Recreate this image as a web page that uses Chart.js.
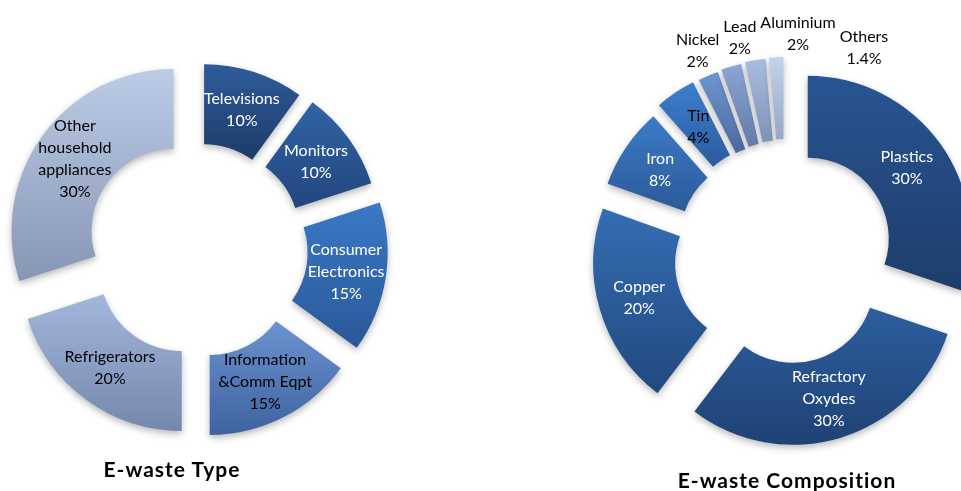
<!DOCTYPE html>
<html>
<head>
<meta charset="utf-8">
<script src="https://cdn.jsdelivr.net/npm/chart.js@4.4.0/dist/chart.umd.min.js"></script>
<style>
  html, body { margin: 0; padding: 0; background: #fff; overflow: hidden; }
  #wrap { position: relative; width: 961px; height: 491px; overflow: hidden; }
  canvas { position: absolute; }
  #typeChart { left: -13px; top: 0; }
  #compChart { left: 575px; top: 0; }
  .title { position: absolute; font: bold 21px Lato, sans-serif; letter-spacing: 1px; color: #000; white-space: nowrap; transform: translateX(-50%); }
</style>
</head>
<body>
<div id="wrap">
  <canvas id="typeChart" width="420" height="496"></canvas>
  <canvas id="compChart" width="420" height="510"></canvas>
  <div class="title" style="left:172px; top:456px">E-waste Type</div>
  <div class="title" style="left:787px; top:467px">E-waste Composition</div>
</div>
<script>
// E-waste by type (share of total, %)
const typeLabels = [['Televisions'], ['Monitors'], ['Consumer', 'Electronics'], ['Information', '&Comm Eqpt'], ['Refrigerators'], ['Other', 'household', 'appliances']];
const typeShares = [10, 10, 15, 15, 20, 30];

// E-waste by material (share of total, %)
const compLabels = [['Plastics'], ['Refractory', 'Oxydes'], ['Copper'], ['Iron'], ['Tin'], ['Nickel'], ['Lead'], ['Aluminium'], ['Others']];
const compShares = [30, 30, 20, 8, 4, 2, 2, 2, 1.4];

// slice styling: gradient top/bottom colours, label colour, explode distance (px)
const typeTop    = ['#2e5c9a', '#3164a6', '#3a79c6', '#6c93d0', '#a3b7dd', '#bccbe6'];
const typeBottom = ['#1d3b67', '#22467d', '#2a5797', '#3f62a0', '#7488ae', '#8796b3'];
const typeText   = ['#fff', '#fff', '#fff', '#000', '#000', '#000'];
const typeExplode = [23, 25, 29, 28, 26, 29];

const compTop    = ['#285593', '#2d5e9f', '#356db3', '#3d7bc7', '#3c7fd0', '#6e95cf', '#8ba5d4', '#a7bce1', '#c3d1ec'];
const compBottom = ['#1d3d6b', '#1f4274', '#21497e', '#2b5a98', '#2b5b9c', '#4b6a9e', '#627ba8', '#7f92b7', '#97a7c4'];
const compText   = ['#fff', '#fff', '#fff', '#fff', '#000', '#000', '#000', '#000', '#000'];
const compExplode = [28, 28, 30, 29, 33, 32, 33, 34, 35];

// pushes every arc out along its mid angle
const explode = {
  id: 'explode',
  afterDatasetUpdate(chart, args, opts) {
    args.meta.data.forEach((arc, i) => {
      const mid = (arc.startAngle + arc.endAngle) / 2;
      const d = opts.distance[i] || 0;
      arc.x += Math.cos(mid) * d;
      arc.y += Math.sin(mid) * d;
    });
  }
};

// vertical gradient per slice plus a soft drop shadow
const shading = {
  id: 'shading',
  beforeDatasetDraw(chart, args, opts) {
    const ctx = chart.ctx;
    args.meta.data.forEach((arc, i) => {
      let top = Infinity, bottom = -Infinity;
      for (let k = 0; k <= 24; k++) {
        const a = arc.startAngle + (arc.endAngle - arc.startAngle) * k / 24;
        [arc.innerRadius, arc.outerRadius].forEach(r => {
          const py = arc.y + Math.sin(a) * r;
          top = Math.min(top, py);
          bottom = Math.max(bottom, py);
        });
      }
      const g = ctx.createLinearGradient(0, top, 0, bottom);
      g.addColorStop(0, opts.top[i]);
      g.addColorStop(1, opts.bottom[i]);
      arc.options.backgroundColor = g;
    });
    ctx.save();
    ctx.shadowColor = 'rgba(0,0,0,0.28)';
    ctx.shadowBlur = 7;
    ctx.shadowOffsetY = 3;
  },
  afterDatasetDraw(chart) {
    chart.ctx.restore();
  }
};

function drawLines(ctx, lines, x, y, lh) {
  const y0 = y - (lines.length - 1) * lh / 2;
  lines.forEach((t, k) => ctx.fillText(t, x, y0 + k * lh));
}

// category + percentage inside each slice; small slices get theirs outside the ring
const sliceLabels = {
  id: 'sliceLabels',
  afterDatasetsDraw(chart, args, opts) {
    const ctx = chart.ctx;
    const values = chart.data.datasets[0].data;
    const arcs = chart.getDatasetMeta(0).data;
    const area = chart.chartArea;
    const cx = (area.left + area.right) / 2, cy = (area.top + area.bottom) / 2;
    const R = opts.outsideRadius;
    ctx.save();
    ctx.font = opts.font;
    ctx.textAlign = 'center';
    ctx.textBaseline = 'middle';
    const outside = [];
    arcs.forEach((arc, i) => {
      const lines = chart.data.labels[i].concat(values[i] + '%');
      if (values[i] < opts.outsideBelow) {
        const mid = (arc.startAngle + arc.endAngle) / 2;
        const w = Math.max(...lines.map(t => ctx.measureText(t).width));
        outside.push({lines, w, x: cx + Math.cos(mid) * R, y: cy + Math.sin(mid) * R});
        return;
      }
      const p = arc.getCenterPoint();
      ctx.fillStyle = opts.colors[i];
      drawLines(ctx, lines, p.x, p.y, opts.lineHeight);
    });
    // slide outside labels along their circle so neighbours don't overlap
    let right = -Infinity;
    ctx.fillStyle = '#000';
    outside.forEach(l => {
      const left = Math.max(l.x - l.w / 2, right + opts.gap);
      l.x = left + l.w / 2;
      right = left + l.w;
      const dx = l.x - cx;
      const side = Math.sign(l.y - cy) || -1;
      l.y = cy + side * Math.sqrt(Math.max(R * R - dx * dx, 0));
      drawLines(ctx, l.lines, l.x, l.y, opts.lineHeight);
    });
    ctx.restore();
  }
};

function makeDoughnut(id, labels, values, style) {
  return new Chart(document.getElementById(id), {
    type: 'doughnut',
    data: {
      labels: labels,
      datasets: [{
        data: values,
        backgroundColor: style.bottom,
        borderWidth: 0,
        clip: false
      }]
    },
    plugins: [explode, shading, sliceLabels],
    options: {
      responsive: false,
      animation: false,
      events: [],
      radius: style.radius,
      cutout: style.cutout,
      layout: { padding: 0 },
      plugins: {
        legend: { display: false },
        tooltip: { enabled: false },
        explode: { distance: style.explode },
        shading: { top: style.top, bottom: style.bottom },
        sliceLabels: {
          font: '16px Lato, sans-serif',
          lineHeight: 22,
          colors: style.text,
          outsideBelow: 3,
          outsideRadius: 222,
          gap: 4
        }
      }
    }
  });
}

makeDoughnut('typeChart', typeLabels, typeShares, {
  top: typeTop, bottom: typeBottom, text: typeText, explode: typeExplode,
  radius: 162, cutout: '50.6%'
});

makeDoughnut('compChart', compLabels, compShares, {
  top: compTop, bottom: compBottom, text: compText, explode: compExplode,
  radius: 163, cutout: '49.7%'
});
</script>
</body>
</html>
